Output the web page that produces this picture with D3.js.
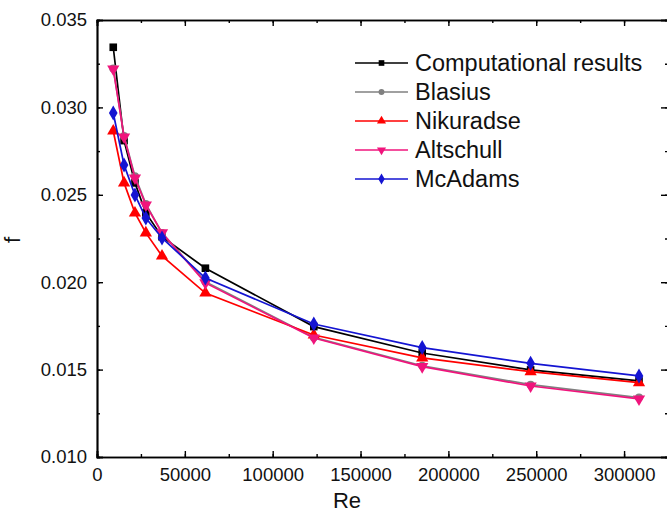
<!DOCTYPE html>
<html><head><meta charset="utf-8">
<script src="https://cdn.jsdelivr.net/npm/d3@7"></script>
<style>body{margin:0;background:#fff}svg{display:block;font-family:"Liberation Sans",Arial,sans-serif}</style>
</head><body><svg id="c" width="667" height="519"></svg>
<script>
const re = [9250, 15400, 21600, 27800, 37000, 61700, 123400, 185100, 246800, 308500];
const computational = [0.03344, 0.02810, 0.02568, 0.02396, 0.02260, 0.02080, 0.01746, 0.01595, 0.01498, 0.01435];
const blasius = [0.03222, 0.02836, 0.02606, 0.02448, 0.02282, 0.02003, 0.01684, 0.01522, 0.01414, 0.01340];
const nikuradse = [0.02865, 0.02568, 0.02396, 0.02282, 0.02150, 0.01938, 0.01698, 0.01567, 0.01488, 0.01425];
const altschull = [0.03220, 0.02831, 0.02596, 0.02442, 0.02282, 0.01996, 0.01681, 0.01517, 0.01406, 0.01332];
const mcadams = [0.02968, 0.02671, 0.02499, 0.02367, 0.02253, 0.02024, 0.01761, 0.01626, 0.01536, 0.01464];
const seriesNames = ["Computational results", "Blasius", "Nikuradse", "Altschull", "McAdams"];
const xTicks = [0, 50000, 100000, 150000, 200000, 250000, 300000];
const yTicks = [0.010, 0.015, 0.020, 0.025, 0.030, 0.035];

const series = [
  {name: seriesNames[0], vals: computational, color: "#000000", sym: d3.symbolSquare, size: 58, rot: 0},
  {name: seriesNames[1], vals: blasius, color: "#808080", sym: d3.symbolCircle, size: 50, rot: 0},
  {name: seriesNames[2], vals: nikuradse, color: "#ff0000", sym: d3.symbolTriangle, size: 65, rot: 0},
  {name: seriesNames[3], vals: altschull, color: "#f0147c", sym: d3.symbolTriangle, size: 65, rot: 180},
  {name: seriesNames[4], vals: mcadams, color: "#1414d2", sym: d3.symbolDiamond, size: 65, rot: 0}
];

const L = 97, R = 668, T = 20, B = 457;
const svg = d3.select("#c");
const x = d3.scaleLinear().domain([0, 325000]).range([L, R]);
const y = d3.scaleLinear().domain([0.010, 0.035]).range([B, T]);

const fmtY = d3.format(".3f");
const xMinor = d3.range(0, 325001, 25000);
const yMinor = d3.range(0, 11).map(i => 0.010 + i * 0.0025);

const axB = svg.append("g").attr("transform", `translate(0,${B})`)
  .call(d3.axisBottom(x).tickValues(xMinor).tickSize(-3).tickFormat(""));
axB.append("g").call(d3.axisBottom(x).tickValues(xTicks).tickSize(-6).tickPadding(11).tickFormat(d3.format("d")));
const axT = svg.append("g").attr("transform", `translate(0,${T})`)
  .call(d3.axisTop(x).tickValues(xMinor).tickSize(-3).tickFormat(""));
axT.append("g").call(d3.axisTop(x).tickValues(xTicks).tickSize(-6).tickFormat(""));
const axL = svg.append("g").attr("transform", `translate(${L},0)`)
  .call(d3.axisLeft(y).tickValues(yMinor).tickSize(-3).tickFormat(""));
axL.append("g").call(d3.axisLeft(y).tickValues(yTicks).tickSize(-6).tickPadding(10).tickFormat(fmtY));
const axR = svg.append("g").attr("transform", `translate(${R},0)`)
  .call(d3.axisRight(y).tickValues(yMinor).tickSize(-3).tickFormat(""));
axR.append("g").call(d3.axisRight(y).tickValues(yTicks).tickSize(-7).tickFormat(""));

svg.selectAll(".domain").attr("stroke", "#000").attr("stroke-width", 1.7);
svg.selectAll(".tick line").attr("stroke", "#000").attr("stroke-width", 1.4);
svg.selectAll(".tick text").attr("font-size", 18.5).attr("fill", "#111")
  .attr("font-family", '"Liberation Sans",Arial,sans-serif');

svg.append("text").attr("x", 347).attr("y", 508).attr("text-anchor", "middle")
  .attr("font-size", 22).attr("fill", "#111").text("Re");
svg.append("text").attr("transform", "translate(20,240) rotate(-90)").attr("text-anchor", "middle")
  .attr("font-size", 22).attr("fill", "#111").text("f");

const line = d3.line().x(d => x(d[0])).y(d => y(d[1]));
series.forEach(s => {
  const pts = re.map((r, i) => [r, s.vals[i]]);
  const g = svg.append("g");
  g.append("path").datum(pts).attr("d", line).attr("fill", "none")
    .attr("stroke", s.color).attr("stroke-width", 1.7);
  g.selectAll("path.m").data(pts).join("path").attr("class", "m")
    .attr("d", d3.symbol().type(s.sym).size(s.size))
    .attr("transform", d => `translate(${x(d[0])},${y(d[1])}) rotate(${s.rot})`)
    .attr("fill", s.color);
});

const lg = svg.append("g");
series.forEach((s, i) => {
  const yy = 63 + i * 29;
  lg.append("line").attr("x1", 355).attr("x2", 408).attr("y1", yy).attr("y2", yy)
    .attr("stroke", s.color).attr("stroke-width", 1.7);
  lg.append("path").attr("d", d3.symbol().type(s.sym).size(s.size * 0.55))
    .attr("transform", `translate(381.5,${yy}) rotate(${s.rot})`).attr("fill", s.color);
  lg.append("text").attr("x", 415).attr("y", yy + 8).attr("font-size", 23.5)
    .attr("fill", "#111").text(s.name);
});
</script></body></html>
